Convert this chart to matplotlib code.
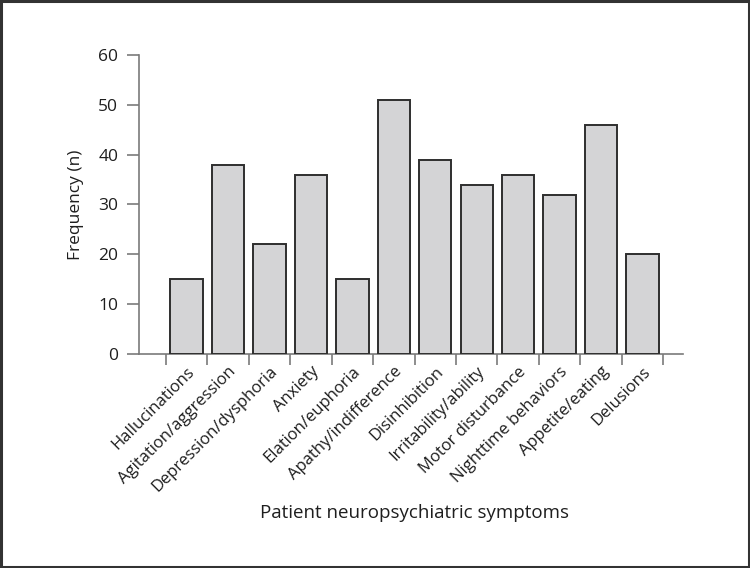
import numpy as np
import matplotlib
matplotlib.use('Agg')
import matplotlib.pyplot as plt
from matplotlib.patches import Rectangle

# Data
symptoms = ['Hallucinations', 'Agitation/aggression', 'Depression/dysphoria',
            'Anxiety', 'Elation/euphoria', 'Apathy/indifference',
            'Disinhibition', 'Irritability/ability', 'Motor disturbance',
            'Nighttime behaviors', 'Appetite/eating', 'Delusions']
frequency = [15, 38, 22, 36, 15, 51, 39, 34, 36, 32, 46, 20]
yticks = [0, 10, 20, 30, 40, 50, 60]

plt.rcParams['font.family'] = ['Open Sans', 'DejaVu Sans']
axis_col = '#7a7a7a'
txt_col = '#1e1e1e'

fig = plt.figure(figsize=(7.5, 5.68), dpi=100)
ax = fig.add_axes([0.1853, 0.3768, 0.7254, 0.5264])

x = np.arange(len(symptoms))
ax.bar(x, frequency, width=0.78, color='#d4d4d6', edgecolor='#2e2e2e', linewidth=1.4, zorder=3)

ax.set_xlim(-1.15, 11.98)
ax.set_ylim(0, 60)
ax.set_yticks(yticks)
ax.set_yticklabels([str(v) for v in yticks], fontsize=12.5, color=txt_col)

# labels at bar centres, tick marks at category boundaries
ax.set_xticks(x)
ax.set_xticklabels(symptoms, rotation=45, ha='right', rotation_mode='anchor',
                   fontsize=12, color=txt_col)
ax.set_xticks(np.arange(-0.5, len(symptoms), 1.0), minor=True)
ax.tick_params(axis='x', which='major', length=0, pad=7)
ax.tick_params(axis='x', which='minor', length=8, width=1.2, color=axis_col, direction='out')
ax.tick_params(axis='y', length=9, width=1.2, color=axis_col, pad=6)

for s in ['top', 'right']:
    ax.spines[s].set_visible(False)
for s in ['left', 'bottom']:
    ax.spines[s].set_color(axis_col)
    ax.spines[s].set_linewidth(1.2)

ax.set_ylabel('Frequency (n)', fontsize=12.5, color=txt_col, labelpad=10)
fig.text(0.553, 0.097, 'Patient neuropsychiatric symptoms', ha='center', va='center',
         fontsize=13.5, color=txt_col)

# frame around the whole picture
fig.patches.append(Rectangle((0.0015, 0.002), 0.997, 0.996, transform=fig.transFigure,
                             fill=False, edgecolor='#333333', linewidth=2.2))

fig.savefig('out.png', dpi=100)
